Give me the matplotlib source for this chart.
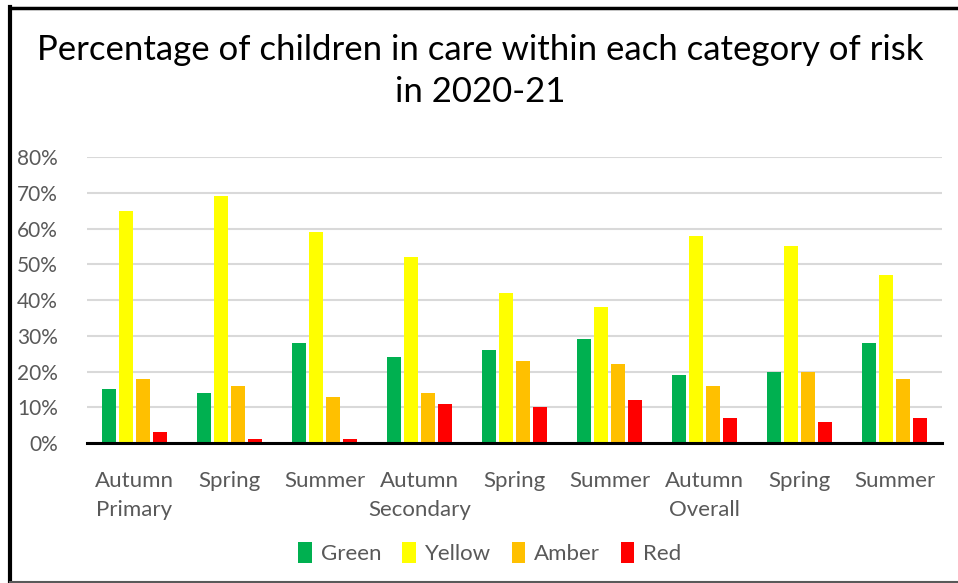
import numpy as np
import matplotlib.pyplot as plt
from matplotlib.lines import Line2D
from matplotlib.ticker import PercentFormatter

plt.rcParams['font.family'] = ['Lato', 'DejaVu Sans']

# Data (percentages)
seasons = ['Autumn', 'Spring', 'Summer', 'Autumn', 'Spring', 'Summer', 'Autumn', 'Spring', 'Summer']
phases = ['Primary', '', '', 'Secondary', '', '', 'Overall', '', '']
green = [15, 14, 28, 24, 26, 29, 19, 20, 28]
yellow = [65, 69, 59, 52, 42, 38, 58, 55, 47]
amber = [18, 16, 13, 14, 23, 22, 16, 20, 18]
red = [3, 1, 1, 11, 10, 12, 7, 6, 7]

series = [('Green', green, '#00B050'), ('Yellow', yellow, '#FFFF00'),
          ('Amber', amber, '#FFC000'), ('Red', red, '#FF0000')]

fig = plt.figure(figsize=(9.58, 5.83), dpi=100)
ax = fig.add_axes([0.0908, 0.2401, 0.8925, 0.4906])

x = np.arange(len(seasons))
w = 0.147
step = 0.179
for i, (name, vals, col) in enumerate(series):
    ax.bar(x + (i - 1.5) * step, np.array(vals) / 100, width=w, color=col, label=name, zorder=3)

ax.set_xlim(-0.5, len(seasons) - 0.5)
ax.set_ylim(0, 0.8)
ax.set_yticks(np.arange(0, 0.81, 0.1))
ax.yaxis.set_major_formatter(PercentFormatter(1.0, decimals=0))
ax.grid(axis='y', color='#d9d9d9', linewidth=1.5, zorder=0)
for s in ['top', 'right', 'left']:
    ax.spines[s].set_visible(False)
ax.spines['bottom'].set_color('black')
ax.spines['bottom'].set_linewidth(2.2)
ax.spines['bottom'].set_zorder(4)

labels = [s + ('\n' + p if p else '') for s, p in zip(seasons, phases)]
ax.set_xticks(x)
ax.set_xticklabels(labels, va='top', linespacing=1.6)
ax.tick_params(axis='x', length=0, pad=20, labelsize=16, labelcolor='#595959')
ax.tick_params(axis='y', length=0, pad=21, labelsize=15, labelcolor='#595959')

fig.text(0.501, 1 - 71 / 583, 'Percentage of children in care within each category of risk\nin 2020-21',
         ha='center', va='center', fontsize=25, color='black', linespacing=1.35)

leg = ax.legend(loc='center', bbox_to_anchor=(490 / 958, 1 - 553 / 583), bbox_transform=fig.transFigure,
                ncol=4, frameon=False, fontsize=16, handlelength=0.6, handleheight=1.1,
                handletextpad=0.4, columnspacing=0.95)
for t in leg.get_texts():
    t.set_color('#595959')

# chart frame
fig.add_artist(Line2D([10 / 958, 1.0], [1 - 7.5 / 583] * 2, color='black', linewidth=2.5))
fig.add_artist(Line2D([10 / 958] * 2, [1 - 6.5 / 583, 1 - 581 / 583], color='black', linewidth=3))
fig.add_artist(Line2D([10 / 958, 1.0], [1 - 581.5 / 583] * 2, color='#595959', linewidth=1.5))

fig.savefig('out.png', dpi=100)
